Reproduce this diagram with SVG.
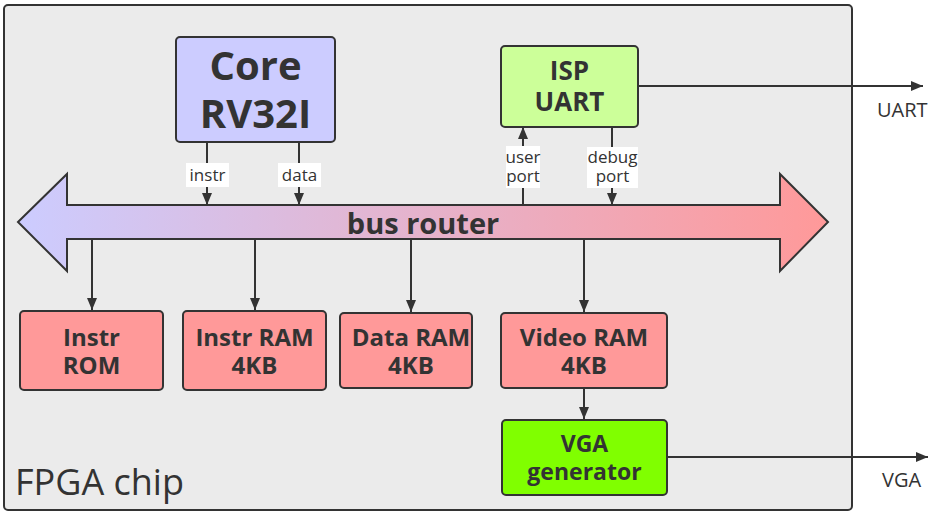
<svg xmlns="http://www.w3.org/2000/svg" width="936" height="515" viewBox="0 0 936 515">
  <defs>
    <linearGradient id="busGrad" x1="0" y1="0" x2="1" y2="0">
      <stop offset="0" stop-color="#ccccff"/>
      <stop offset="1" stop-color="#ff9999"/>
    </linearGradient>
    <marker id="arr" markerUnits="userSpaceOnUse" markerWidth="12" markerHeight="12" viewBox="0 0 12 12" refX="12" refY="6" orient="auto">
      <path d="M0,1 L12,6 L0,11 Z" fill="#333"/>
    </marker>
    <style>
      .box { stroke: #333; stroke-width: 2; }
      .line { stroke: #333; stroke-width: 2; fill: none; }
      .t { font-family: "Open Sans", "Noto Sans", "DejaVu Sans", sans-serif; fill: #333; text-anchor: middle; }
      .b { font-weight: bold; }
      .lbl { font-family: "Open Sans", "Noto Sans", "DejaVu Sans", sans-serif; fill: #333; font-size: 17px; text-anchor: middle; }
      .ext { font-family: "Open Sans", "Noto Sans", "DejaVu Sans", sans-serif; fill: #333; font-size: 20px; }
      .mem { fill: #ff9999; }
    </style>
  </defs>

  <g id="chip">
    <rect x="4" y="5" width="848" height="505" rx="4" fill="#ebebeb" class="box"/>
    <text x="15" y="495" class="ext" style="font-size:36px">FPGA chip</text>
  </g>

  <g id="bus">
    <path d="M18,222 L67,174 L67,205 L780,205 L780,174 L828,222 L780,271 L780,239 L67,239 L67,271 Z" fill="url(#busGrad)" class="box"/>
    <text x="423" y="234" class="t b" font-size="29">bus router</text>
  </g>

  <g id="core">
    <rect x="176" y="37" width="159" height="105" rx="4" fill="#ccccff" class="box"/>
    <text x="255.5" y="80" class="t b" font-size="40">Core</text>
    <text x="255.5" y="128" class="t b" font-size="40">RV32I</text>
  </g>

  <g id="isp-uart">
    <rect x="501" y="46" width="137" height="81" rx="4" fill="#ccff99" class="box"/>
    <text x="569.5" y="80" class="t b" font-size="26">ISP</text>
    <text x="569.5" y="111" class="t b" font-size="26">UART</text>
  </g>

  <g id="instr-rom">
    <rect x="20" y="311" width="143" height="79" rx="4" class="box mem"/>
    <text x="91.5" y="346" class="t b" font-size="24">Instr</text>
    <text x="91.5" y="374" class="t b" font-size="24">ROM</text>
  </g>

  <g id="instr-ram">
    <rect x="183" y="311" width="143" height="79" rx="4" class="box mem"/>
    <text x="254.5" y="346" class="t b" font-size="24">Instr RAM</text>
    <text x="254.5" y="374" class="t b" font-size="24">4KB</text>
  </g>

  <g id="data-ram">
    <rect x="340" y="313" width="132" height="75" rx="4" class="box mem"/>
    <text x="411" y="346" class="t b" font-size="24">Data RAM</text>
    <text x="411" y="374" class="t b" font-size="24">4KB</text>
  </g>

  <g id="video-ram">
    <rect x="501" y="313" width="166" height="75" rx="4" class="box mem"/>
    <text x="584" y="346" class="t b" font-size="24">Video RAM</text>
    <text x="584" y="374" class="t b" font-size="24">4KB</text>
  </g>

  <g id="vga-gen">
    <rect x="502" y="420" width="165" height="75" rx="4" fill="#80ff00" class="box"/>
    <text x="584.5" y="452" class="t b" font-size="23">VGA</text>
    <text x="584.5" y="480" class="t b" font-size="23">generator</text>
  </g>

  <g id="connectors">
    <line x1="207" y1="142" x2="207" y2="205" class="line" marker-end="url(#arr)"/>
    <line x1="299" y1="142" x2="299" y2="205" class="line" marker-end="url(#arr)"/>
    <line x1="523" y1="205" x2="523" y2="127" class="line" marker-end="url(#arr)"/>
    <line x1="612" y1="127" x2="612" y2="205" class="line" marker-end="url(#arr)"/>
    <line x1="92" y1="239" x2="92" y2="310" class="line" marker-end="url(#arr)"/>
    <line x1="255" y1="239" x2="255" y2="310" class="line" marker-end="url(#arr)"/>
    <line x1="411" y1="239" x2="411" y2="312" class="line" marker-end="url(#arr)"/>
    <line x1="584" y1="239" x2="584" y2="312" class="line" marker-end="url(#arr)"/>
    <line x1="584" y1="388" x2="584" y2="419" class="line" marker-end="url(#arr)"/>
    <line x1="638" y1="86" x2="923" y2="86" class="line" marker-end="url(#arr)"/>
    <line x1="667" y1="457" x2="928" y2="457" class="line" marker-end="url(#arr)"/>

    <rect x="186" y="163" width="43" height="24" fill="#fff"/>
    <text x="207.5" y="181" class="lbl">instr</text>
    <rect x="278" y="163" width="43" height="24" fill="#fff"/>
    <text x="299.5" y="181" class="lbl">data</text>
    <rect x="506" y="146" width="34" height="42" fill="#fff"/>
    <text x="523" y="163" class="lbl">user</text>
    <text x="523" y="182" class="lbl">port</text>
    <rect x="587" y="147" width="51" height="41" fill="#fff"/>
    <text x="612.5" y="163" class="lbl">debug</text>
    <text x="612.5" y="182" class="lbl">port</text>

    <text x="877" y="117" class="ext">UART</text>
    <text x="882" y="487" class="ext">VGA</text>
  </g>
</svg>
